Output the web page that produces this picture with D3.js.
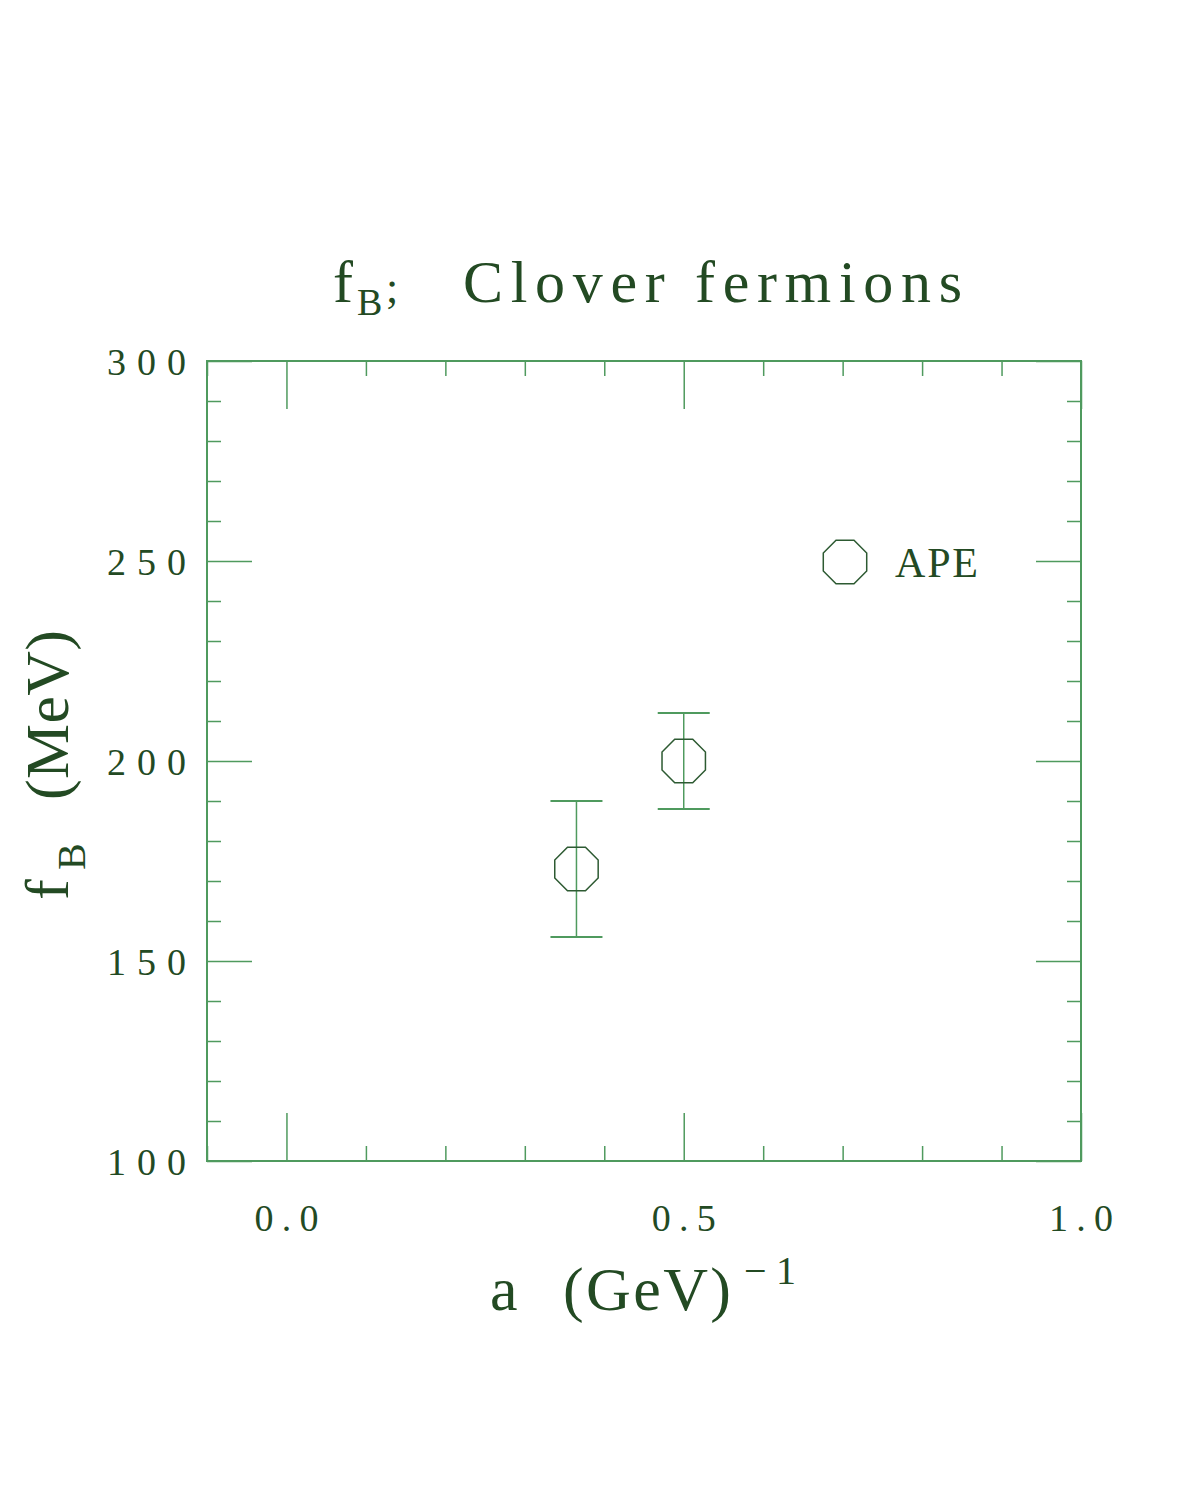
<!DOCTYPE html>
<html><head><meta charset="utf-8">
<script src="https://cdn.jsdelivr.net/npm/d3@7"></script>
<style>body{margin:0;background:#fff}svg{display:block}text{font-family:"Liberation Serif","DejaVu Serif",serif;fill:#234a23}</style>
</head><body>
<script>
// data
const seriesName = "APE";
const aValues = [0.365, 0.5];
const fbValues = [173, 200];
const fbErrors = [17, 12];
const xTickLabels = ["0.0", "0.5", "1.0"];
const yTickLabels = ["100", "150", "200", "250", "300"];

(function () {
const W = 1200, H = 1485;
const svg = d3.select("body").append("svg").attr("width", W).attr("height", H);
const pL = 207, pR = 1081, pT = 361, pB = 1161;
const x = d3.scaleLinear().domain([-0.1, 1.0]).range([pL, pR]);
const y = d3.scaleLinear().domain([100, 300]).range([pB, pT]);
const lineCol = "#4f9a5e", darkCol = "#2d5a32";

const minorX = d3.range(-0.1, 1.0001, 0.1).map(v => +v.toFixed(2)).filter(v => ![0, 0.5, 1.0].includes(v));
const majorX = xTickLabels.map(Number);
const minorY = d3.range(100, 301, 10).filter(v => v % 50 !== 0);
const majorY = yTickLabels.map(Number);

function axisG(axis, tr) {
  const g = svg.append("g").attr("transform", tr).call(axis);
  g.select(".domain").remove();
  g.selectAll("line").attr("stroke", lineCol).attr("stroke-width", 1.5);
  g.selectAll("text").remove();
  return g;
}
// ticks inside, all four sides
axisG(d3.axisBottom(x).tickValues(minorX).tickSize(-15), `translate(0,${pB})`);
axisG(d3.axisBottom(x).tickValues(majorX).tickSize(-48), `translate(0,${pB})`);
axisG(d3.axisTop(x).tickValues(minorX).tickSize(-15), `translate(0,${pT})`);
axisG(d3.axisTop(x).tickValues(majorX).tickSize(-48), `translate(0,${pT})`);
axisG(d3.axisLeft(y).tickValues(minorY).tickSize(-14), `translate(${pL},0)`);
axisG(d3.axisLeft(y).tickValues(majorY).tickSize(-45), `translate(${pL},0)`);
axisG(d3.axisRight(y).tickValues(minorY).tickSize(-14), `translate(${pR},0)`);
axisG(d3.axisRight(y).tickValues(majorY).tickSize(-45), `translate(${pR},0)`);

// frame
svg.append("rect").attr("x", pL).attr("y", pT).attr("width", pR - pL).attr("height", pB - pT)
  .attr("fill", "none").attr("stroke", lineCol).attr("stroke-width", 2);

// tick labels
svg.selectAll("text.yl").data(yTickLabels).join("text").attr("class", "yl")
  .attr("x", 186).attr("y", d => y(+d) + 14).attr("text-anchor", "end")
  .attr("font-size", 38).attr("textLength", 79).attr("lengthAdjust", "spacing").text(d => d);
svg.selectAll("text.xl").data(xTickLabels).join("text").attr("class", "xl")
  .attr("x", d => x(+d) - 32).attr("y", 1231)
  .attr("font-size", 38).attr("textLength", 64).attr("lengthAdjust", "spacing").text(d => d);

// title
svg.append("text").attr("x", 333).attr("y", 302).attr("font-size", 60).text("f");
svg.append("text").attr("x", 357).attr("y", 315).attr("font-size", 38).text("B");
svg.append("text").attr("x", 386).attr("y", 302).attr("font-size", 44).text(";");
svg.append("text").attr("x", 463).attr("y", 302).attr("font-size", 60)
  .attr("textLength", 499).attr("lengthAdjust", "spacing").text("Clover fermions");

// x title
svg.append("text").attr("x", 490).attr("y", 1310).attr("font-size", 62).text("a");
svg.append("text").attr("x", 563).attr("y", 1310).attr("font-size", 62)
  .attr("textLength", 168).attr("lengthAdjust", "spacing").text("(GeV)");
svg.append("text").attr("x", 744).attr("y", 1284).attr("font-size", 40)
  .attr("textLength", 52).attr("lengthAdjust", "spacing").text("\u22121");

// y title
const yt = svg.append("g").attr("transform", "translate(68,900) rotate(-90)");
yt.append("text").attr("x", 0).attr("y", 0).attr("font-size", 62).text("f");
yt.append("text").attr("x", 30).attr("y", 17).attr("font-size", 40).text("B");
yt.append("text").attr("x", 100).attr("y", 0).attr("font-size", 62)
  .attr("textLength", 170).attr("lengthAdjust", "spacing").text("(MeV)");

// octagon path
function octagon(r) {
  const pts = d3.range(8).map(k => {
    const a = Math.PI / 8 + k * Math.PI / 4;
    return [r * Math.cos(a), r * Math.sin(a)];
  });
  return d3.line()(pts) + "Z";
}
const data = aValues.map((a, i) => ({ a, f: fbValues[i], e: fbErrors[i] }));
const pts = svg.append("g");
const capW = 26;
pts.selectAll("line.err").data(data).join("line").attr("class", "err")
  .attr("x1", d => x(d.a)).attr("x2", d => x(d.a))
  .attr("y1", d => y(d.f - d.e)).attr("y2", d => y(d.f + d.e))
  .attr("stroke", lineCol).attr("stroke-width", 1.5);
pts.selectAll("line.capt").data(data).join("line").attr("class", "capt")
  .attr("x1", d => x(d.a) - capW).attr("x2", d => x(d.a) + capW)
  .attr("y1", d => y(d.f + d.e)).attr("y2", d => y(d.f + d.e))
  .attr("stroke", lineCol).attr("stroke-width", 2);
pts.selectAll("line.capb").data(data).join("line").attr("class", "capb")
  .attr("x1", d => x(d.a) - capW).attr("x2", d => x(d.a) + capW)
  .attr("y1", d => y(d.f - d.e)).attr("y2", d => y(d.f - d.e))
  .attr("stroke", lineCol).attr("stroke-width", 2);
pts.selectAll("path.oct").data(data).join("path").attr("class", "oct")
  .attr("transform", d => `translate(${x(d.a)},${y(d.f)})`)
  .attr("d", octagon(23.5)).attr("fill", "none").attr("stroke", darkCol).attr("stroke-width", 1.5);

// legend
svg.append("path").attr("transform", "translate(845,562)").attr("d", octagon(23.5))
  .attr("fill", "none").attr("stroke", darkCol).attr("stroke-width", 1.5);
svg.append("text").attr("x", 895).attr("y", 577).attr("font-size", 42)
  .attr("textLength", 83).attr("lengthAdjust", "spacing").text(seriesName);
})();
</script>
</body></html>
